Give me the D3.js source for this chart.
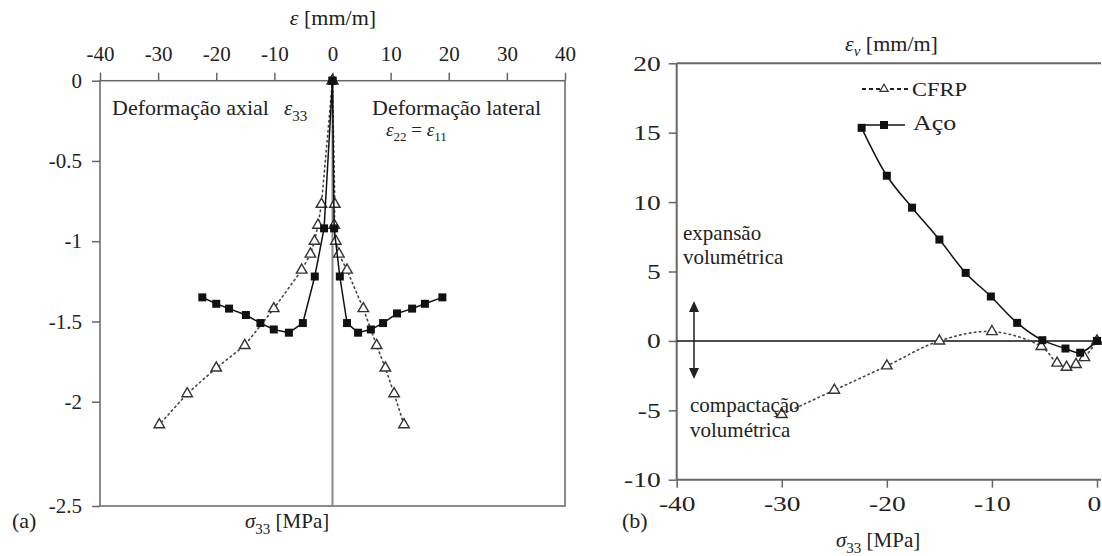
<!DOCTYPE html>
<html>
<head>
<meta charset="utf-8">
<script src="https://cdn.jsdelivr.net/npm/d3@7"></script>
<style>
  html, body { margin: 0; padding: 0; background: #fff; }
  svg { display: block; }
  text { font-family: "Liberation Serif", "Times New Roman", serif; fill: #222; }
</style>
</head>
<body>
<svg id="chart" width="1102" height="556"></svg>
<script>
// ---- Panel (a): strain vs axial stress ----
const epsTicks = [-40, -30, -20, -10, 0, 10, 20, 30, 40];
const sigmaTicksA = [0, -0.5, -1, -1.5, -2, -2.5];

// Steel confinement – axial strain ε33 (left branch)
const steelAxialEps   = [0, -1.45, -3.05, -5.1, -7.5, -10.1, -12.4, -14.9, -17.8, -20.0, -22.4];
const steelAxialSigma = [0, -0.92, -1.22, -1.51, -1.57, -1.55, -1.51, -1.46, -1.42, -1.39, -1.35];
// Steel confinement – lateral strain ε22 = ε11 (right branch)
const steelLatEps     = [0, 0.28, 1.26, 2.5, 4.4, 6.6, 8.7, 11.1, 13.7, 15.9, 18.9];
const steelLatSigma   = [0, -0.92, -1.22, -1.51, -1.57, -1.55, -1.51, -1.45, -1.42, -1.39, -1.35];
// CFRP confinement – axial strain
const cfrpAxialEps    = [0, -1.9, -2.5, -3.1, -3.8, -5.3, -10.1, -15.1, -20.0, -25.0, -29.8];
const cfrpAxialSigma  = [0, -0.77, -0.90, -1.00, -1.08, -1.18, -1.42, -1.65, -1.79, -1.95, -2.11];
// CFRP confinement – lateral strain
const cfrpLatEps      = [0, 0.4, 0.3, 0.57, 1.1, 2.5, 5.3, 7.6, 9.1, 10.6, 12.3];
const cfrpLatSigma    = [0, -0.77, -0.90, -1.00, -1.08, -1.18, -1.42, -1.65, -1.79, -1.95, -2.11];

// ---- Panel (b): volumetric strain vs axial stress ----
const sigmaTicksB = [-40, -30, -20, -10, 0];
const evTicks = [-10, -5, 0, 5, 10, 15, 20];
const steelVolSigma = [-22.4, -20.0, -17.6, -15.0, -12.5, -10.1, -7.6, -5.2, -3.0, -1.6, 0];
const steelVolEv    = [15.35, 11.9, 9.6, 7.3, 4.9, 3.2, 1.3, 0.05, -0.55, -0.85, 0];
const cfrpVolSigma  = [-30, -25, -20, -15, -10, -5.3, -3.8, -2.9, -2.0, -1.2, 0];
const cfrpVolEv     = [-5.3, -3.55, -1.8, 0, 0.67, -0.4, -1.6, -1.9, -1.7, -1.2, 0];

const svg = d3.select("#chart");
const zip = (a, b) => a.map((v, i) => [v, b[i]]);

const axisColor = "#666";
const square = d3.symbol().type(d3.symbolSquare).size(64);
const triangle = d3.symbol().type(d3.symbolTriangle).size(48);

function styleAxis(g, fontSize) {
  g.select(".domain").remove();
  g.selectAll(".tick line").attr("stroke", axisColor).attr("stroke-width", 1.5);
  g.selectAll(".tick text")
    .attr("fill", "#222")
    .style("font-family", '"Liberation Serif", serif')
    .style("font-size", fontSize + "px");
}

// ================= Panel (a) =================
const xA = d3.scaleLinear().domain([-40, 40]).range([100, 565]);
const yA = d3.scaleLinear().domain([0, -2, -2.5]).range([80.7, 401.7, 506]);

const gA = svg.append("g");

// frame
gA.append("rect")
  .attr("x", xA(-40)).attr("y", yA(0))
  .attr("width", xA(40) - xA(-40)).attr("height", yA(-2.5) - yA(0))
  .attr("fill", "none").attr("stroke", axisColor).attr("stroke-width", 1.5);

// zero strain line
gA.append("line")
  .attr("x1", xA(0)).attr("x2", xA(0)).attr("y1", yA(0)).attr("y2", yA(-2.5))
  .attr("stroke", "#888").attr("stroke-width", 2);

gA.append("g")
  .attr("transform", `translate(0,${yA(0)})`)
  .call(d3.axisTop(xA).tickValues(epsTicks).tickSize(8).tickPadding(12).tickFormat(d => String(d)))
  .call(g => styleAxis(g, 21));

gA.append("g")
  .attr("transform", `translate(${xA(-40)},0)`)
  .call(d3.axisLeft(yA).tickValues(sigmaTicksA).tickSize(8).tickPadding(10).tickFormat(d => String(d)))
  .call(g => styleAxis(g, 21));

const lineA = d3.line().x(d => xA(d[0])).y(d => yA(d[1]));

function drawSeries(g, pts, line, dotted, marker) {
  g.append("path")
    .attr("d", line(pts))
    .attr("fill", "none")
    .attr("stroke", dotted ? "#444" : "#111")
    .attr("stroke-width", dotted ? 1.6 : 1.5)
    .attr("stroke-dasharray", dotted ? "1.5,3.5" : null)
    .attr("stroke-linecap", "round");
  g.selectAll(null).data(pts).enter().append("path")
    .attr("transform", d => `translate(${line.x()(d)},${line.y()(d)})`)
    .attr("d", marker === "square" ? square : triangle)
    .attr("fill", marker === "square" ? "#111" : "#fff")
    .attr("stroke", marker === "square" ? "none" : "#333")
    .attr("stroke-width", 1.4);
}

drawSeries(gA, zip(cfrpAxialEps, cfrpAxialSigma), lineA, true, "triangle");
drawSeries(gA, zip(cfrpLatEps, cfrpLatSigma), lineA, true, "triangle");
drawSeries(gA, zip(steelAxialEps, steelAxialSigma), lineA, false, "square");
drawSeries(gA, zip(steelLatEps, steelLatSigma), lineA, false, "square");

// axis title
const tA = gA.append("text").attr("x", 333).attr("y", 25).attr("text-anchor", "middle").style("font-size", "22px");
tA.append("tspan").style("font-style", "italic").text("ε");
tA.append("tspan").text(" [mm/m]");

gA.append("text").attr("x", 112).attr("y", 115).style("font-size", "22px").text("Deformação axial");
const e33 = gA.append("text").attr("x", 284).attr("y", 115).style("font-size", "21px");
e33.append("tspan").style("font-style", "italic").text("ε");
e33.append("tspan").attr("dy", 6).style("font-size", "15px").text("33");

gA.append("text").attr("x", 372).attr("y", 115).style("font-size", "22px").text("Deformação lateral");
const e22 = gA.append("text").attr("x", 386).attr("y", 136).style("font-size", "19px");
e22.append("tspan").style("font-style", "italic").text("ε");
e22.append("tspan").attr("dy", 5).style("font-size", "13px").text("22");
e22.append("tspan").attr("dy", -5).text(" = ");
e22.append("tspan").style("font-style", "italic").text("ε");
e22.append("tspan").attr("dy", 5).style("font-size", "13px").text("11");

gA.append("text").attr("x", 12).attr("y", 528).style("font-size", "22px").text("(a)");
const sA = gA.append("text").attr("x", 245).attr("y", 528).style("font-size", "21px");
sA.append("tspan").style("font-style", "italic").text("σ");
sA.append("tspan").attr("dy", 6).style("font-size", "15px").text("33");
sA.append("tspan").attr("dy", -6).text(" [MPa]");

// ================= Panel (b) =================
const xB = d3.scaleLinear().domain([-40, 0]).range([676.7, 1097]);
const yB = d3.scaleLinear().domain([-10, 20]).range([479.7, 63.3]);

const gB = svg.append("g");

// top and bottom frame lines
[20, -10].forEach(v => {
  gB.append("line")
    .attr("x1", xB(-40)).attr("x2", 1101).attr("y1", yB(v)).attr("y2", yB(v))
    .attr("stroke", axisColor).attr("stroke-width", 2);
});
gB.append("line")
  .attr("x1", xB(-40)).attr("x2", xB(-40)).attr("y1", yB(20)).attr("y2", yB(-10))
  .attr("stroke", axisColor).attr("stroke-width", 2);
// zero volumetric strain
gB.append("line")
  .attr("x1", xB(-40)).attr("x2", xB(0)).attr("y1", yB(0)).attr("y2", yB(0))
  .attr("stroke", "#111").attr("stroke-width", 1.5);

const axYB = gB.append("g")
  .attr("transform", `translate(${xB(-40)},0)`)
  .call(d3.axisLeft(yB).tickValues(evTicks).tickSize(8).tickPadding(8).tickFormat(d => String(d)))
  .call(g => styleAxis(g, 22));
axYB.selectAll(".tick text").attr("x", -16 / 1.25).attr("transform", "scale(1.25,1)");

const axXB = gB.append("g")
  .attr("transform", `translate(0,${yB(-10)})`)
  .call(d3.axisBottom(xB).tickValues(sigmaTicksB).tickSize(8).tickPadding(8).tickFormat(d => String(d)))
  .call(g => styleAxis(g, 22));
axXB.selectAll(".tick text").attr("transform", "scale(1.25,1)");
// keep the last label inside the frame
axXB.selectAll(".tick text").filter(d => d === 0).attr("text-anchor", "end").attr("x", 3);

const lineB = d3.line().x(d => xB(d[0])).y(d => yB(d[1])).curve(d3.curveCatmullRom.alpha(0.5));

drawSeries(gB, zip(cfrpVolSigma, cfrpVolEv), lineB, true, "triangle");
drawSeries(gB, zip(steelVolSigma, steelVolEv), lineB, false, "square");

// double-headed arrow
const arrowX = 694;
gB.append("line")
  .attr("x1", arrowX).attr("x2", arrowX).attr("y1", 308).attr("y2", 372)
  .attr("stroke", "#222").attr("stroke-width", 1.5);
gB.append("path").attr("d", `M${arrowX},301 L${arrowX - 5},312 L${arrowX + 5},312 Z`).attr("fill", "#222");
gB.append("path").attr("d", `M${arrowX},379 L${arrowX - 5},368 L${arrowX + 5},368 Z`).attr("fill", "#222");

gB.append("text").attr("x", 683).attr("y", 240).style("font-size", "21px").text("expansão");
gB.append("text").attr("x", 683).attr("y", 264).style("font-size", "21px").text("volumétrica");
gB.append("text").attr("x", 690).attr("y", 412).style("font-size", "21px").text("compactação");
gB.append("text").attr("x", 690).attr("y", 437).style("font-size", "21px").text("volumétrica");

// legend
gB.append("line").attr("x1", 862).attr("x2", 909).attr("y1", 89).attr("y2", 89)
  .attr("stroke", "#222").attr("stroke-width", 1.8).attr("stroke-dasharray", "4,3");
gB.append("path").attr("transform", "translate(884,89)").attr("d", d3.symbol().type(d3.symbolTriangle).size(30))
  .attr("fill", "#fff").attr("stroke", "#333").attr("stroke-width", 1.2);
gB.append("text").attr("transform", "translate(912,96) scale(1.25,1)").style("font-size", "18px").text("CFRP");

gB.append("line").attr("x1", 862).attr("x2", 905).attr("y1", 125).attr("y2", 125)
  .attr("stroke", "#111").attr("stroke-width", 1.5);
gB.append("path").attr("transform", "translate(884,125)").attr("d", square).attr("fill", "#111");
gB.append("text").attr("transform", "translate(913,130) scale(1.3,1)").style("font-size", "20px").text("Aço");

// axis titles
const tB = gB.append("text").attr("x", 845).attr("y", 51).style("font-size", "22px");
tB.append("tspan").style("font-style", "italic").text("ε");
tB.append("tspan").attr("dy", 5).style("font-size", "15px").style("font-style", "italic").text("v");
tB.append("tspan").attr("dy", -5).text(" [mm/m]");

gB.append("text").attr("x", 622).attr("y", 528).style("font-size", "22px").text("(b)");
const sB = gB.append("text").attr("x", 836).attr("y", 547).style("font-size", "21px");
sB.append("tspan").style("font-style", "italic").text("σ");
sB.append("tspan").attr("dy", 6).style("font-size", "15px").text("33");
sB.append("tspan").attr("dy", -6).text(" [MPa]");
</script>
</body>
</html>
